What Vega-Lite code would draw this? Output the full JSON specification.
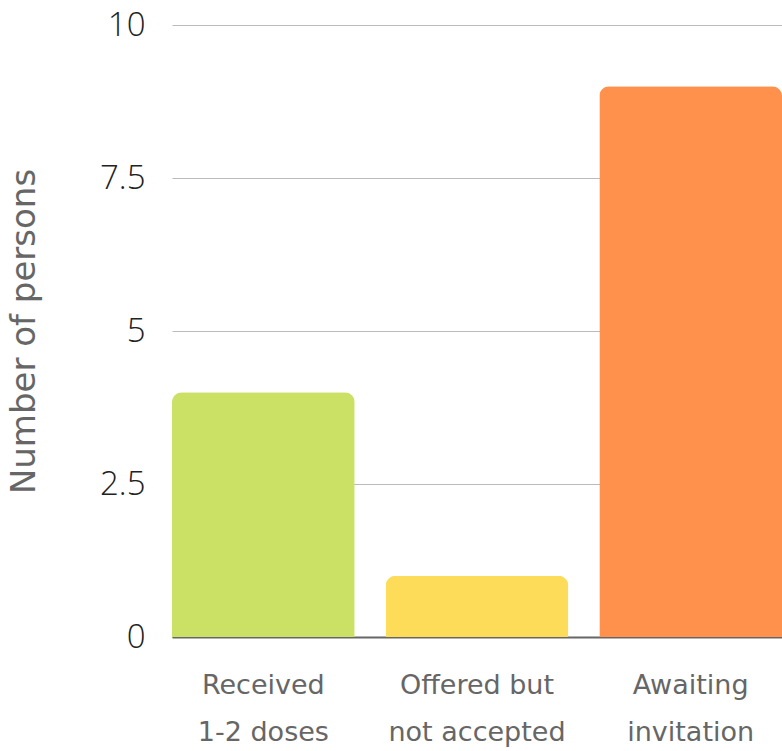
{
  "$schema": "https://vega.github.io/schema/vega-lite/v6.json",
  "autosize": "none",
  "width": 610,
  "height": 612,
  "padding": {"left": 172, "top": 25, "right": 0, "bottom": 114},
  "background": "white",
  "data": {
    "values": [
      {"category": "Received|1-2 doses", "persons": 4, "order": 1},
      {"category": "Offered but|not accepted", "persons": 1, "order": 2},
      {"category": "Awaiting|invitation", "persons": 9, "order": 3}
    ]
  },
  "mark": {"type": "bar", "cornerRadiusTopLeft": 10, "cornerRadiusTopRight": 10},
  "encoding": {
    "x": {
      "field": "category",
      "type": "nominal",
      "sort": {"field": "order"},
      "scale": {"paddingInner": 0.145, "paddingOuter": 0},
      "axis": {
        "title": null,
        "labelAngle": 0,
        "labelExpr": "split(datum.label, '|')",
        "labelFont": "DejaVu Sans",
        "labelFontSize": 27,
        "labelColor": "#666666",
        "labelLineHeight": 47,
        "labelPadding": 35,
        "labelBaseline": "top",
        "ticks": false,
        "domain": true,
        "domainColor": "#666666",
        "domainWidth": 2,
        "grid": false,
        "encode": {
          "labels": {
            "update": {
              "x": {"signal": "scale('x', datum.value) + bandwidth('x') / 2 + (datum.index === 0 ? 2 : (datum.index === 1 ? -32 : -13))"}
            }
          }
        }
      }
    },
    "y": {
      "field": "persons",
      "type": "quantitative",
      "scale": {"domain": [0, 10], "nice": false},
      "axis": {
        "title": "Number of persons",
        "titleFont": "DejaVu Sans",
        "titleFontSize": 34,
        "titleFontWeight": "normal",
        "titleColor": "#666666",
        "titleX": -131,
        "values": [0, 2.5, 5, 7.5, 10],
        "format": ".1~f",
        "labelFont": "Open Sans",
        "labelFontWeight": 300,
        "labelFontSize": 33,
        "labelColor": "#222222",
        "labelPadding": 27,
        "ticks": false,
        "domain": false,
        "grid": true,
        "gridColor": "#bbbbbb",
        "gridWidth": 1.2
      }
    },
    "color": {
      "field": "category",
      "type": "nominal",
      "scale": {
        "domain": ["Received|1-2 doses", "Offered but|not accepted", "Awaiting|invitation"],
        "range": ["#CBE166", "#FDDC5A", "#FF914D"]
      },
      "legend": null
    }
  },
  "config": {"view": {"stroke": null}}
}
